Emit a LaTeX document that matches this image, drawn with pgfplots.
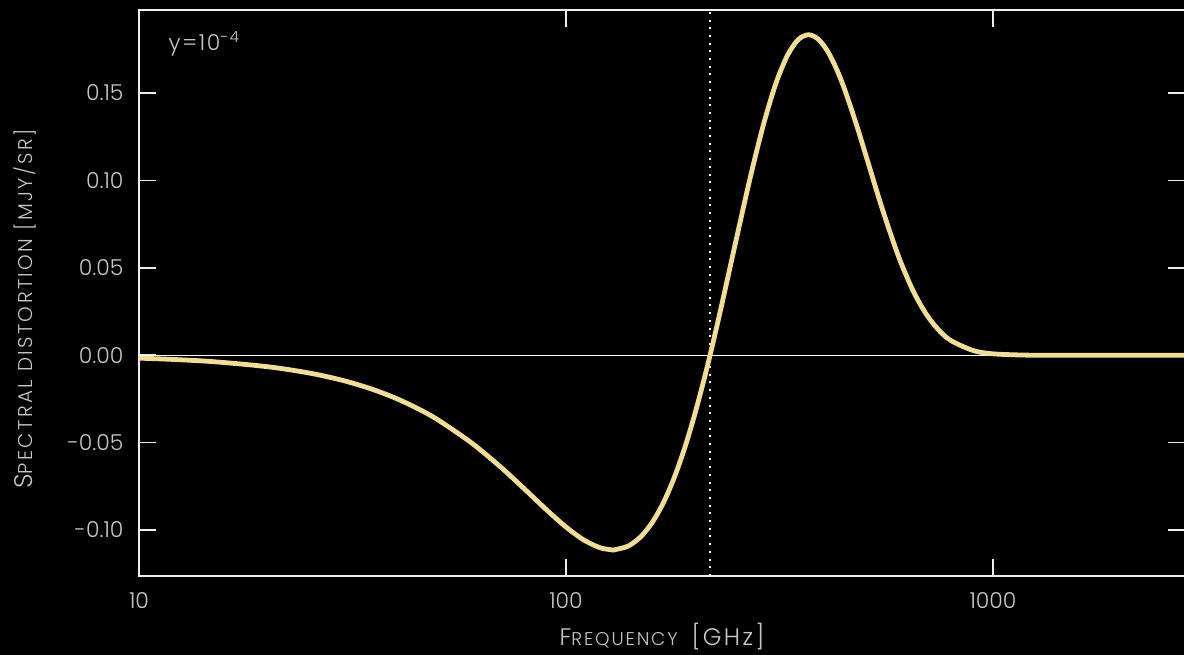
\documentclass[border=0pt]{standalone}
\usepackage{fontspec}
\IfFontExistsTF{Poppins Light}{\setmainfont{Poppins Light}}{\setmainfont{Poppins}}
\usepackage{pgfplots}
\pgfplotsset{compat=1.18}
\definecolor{curve}{RGB}{240,222,150}
\definecolor{txt}{RGB}{200,200,200}
\definecolor{ax}{RGB}{238,238,238}
\newcommand{\bigc}[1]{{\fontsize{24}{26}\selectfont #1}}
\newcommand{\smc}[1]{{\fontsize{18.5}{21}\selectfont #1}}
\newcommand{\bigy}[1]{{\fontsize{25.5}{28}\selectfont #1}}
\newcommand{\smy}[1]{{\fontsize{20}{23}\selectfont #1}}
\pgfplotstableread{
nu dI
10 -0.00167
12 -0.00240
15 -0.00373
20 -0.00657
25 -0.01014
30 -0.01439
35 -0.01928
40 -0.02469
45 -0.03057
50 -0.03681
60 -0.05003
70 -0.06355
80 -0.07660
90 -0.08839
100 -0.09826
110 -0.10564
120 -0.11007
128 -0.11131
130 -0.11128
140 -0.10913
150 -0.10362
160 -0.09490
170 -0.08323
180 -0.06896
190 -0.05251
200 -0.03435
210 -0.01497
217.5 0.00000
230 0.02550
250 0.06528
270 0.10140
290 0.13180
310 0.15527
330 0.17143
350 0.18056
370 0.18335
390 0.18076
410 0.17390
430 0.16386
450 0.15166
480 0.13120
510 0.11022
550 0.08409
600 0.05700
650 0.03691
700 0.02301
750 0.01390
800 0.00817
900 0.00264
1000 0.00080
1200 0.00006
1500 0.00000
2000 0.00000
2817 0.00000
}\sz
\begin{document}
\begin{tikzpicture}
\fill[black] (0,0) rectangle (1184bp,655bp);
\useasboundingbox (0,0) rectangle (1184bp,655bp);
\begin{axis}[
  at={(139bp,79bp)}, anchor=south west,
  scale only axis, width=1046bp, height=566bp,
  clip=false,
  xmode=log, log basis x=10,
  xmin=10, xmax=2817, ymin=-0.1263, ymax=0.1975,
  axis line style={ax, line width=1.6bp},
  every tick/.style={ax, line width=1.6bp},
  major tick length=17bp,
  tick align=inside,
  xminorticks=false, yminorticks=false,
  xtick={10,100,1000}, xticklabels={10,100,1000},
  ytick={-0.1,-0.05,0,0.05,0.1,0.15},
  yticklabels={-0.10,-0.05,0.00,0.05,0.10,0.15},
  tick label style={text=txt, font=\fontsize{22}{24}\selectfont},
  yticklabel style={xshift=-12bp},
  xticklabel style={yshift=-13bp},
]
\addplot[white, line width=0.9bp] coordinates {(10,0) (2817,0)};
\addplot[white, line width=2bp, dash pattern=on 2bp off 5.7bp] coordinates {(217,-0.1263) (217,0.1975)};
\addplot[curve, line width=4.8bp, smooth] table[x=nu, y=dI] {\sz};
\node[anchor=base west, text=txt, font=\fontsize{22}{24}\selectfont\addfontfeatures{LetterSpace=8}] at (rel axis cs:0.0249,0.9293) {y=10\textsuperscript{-4}};
\node[text=txt, anchor=center, font=\addfontfeatures{LetterSpace=10}] at (rel axis cs:0.5,-0.1078) {\bigc{F}\smc{REQUENCY}\hspace{14bp}\bigc{[GHz]}};
\node[text=txt, anchor=center, rotate=90, font=\addfontfeatures{LetterSpace=12}] at (rel axis cs:-0.109,0.4717) {\bigy{S}\smy{PECTRAL DISTORTION [MJY/SR]}};
\end{axis}
\end{tikzpicture}
\end{document}
